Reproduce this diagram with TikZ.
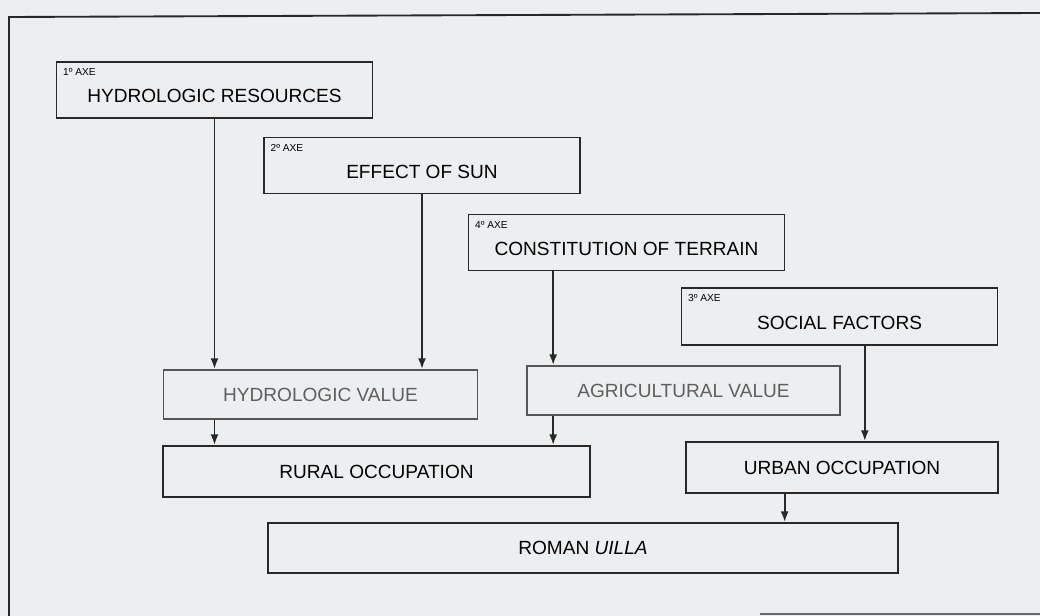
\documentclass[tikz,border=0pt]{standalone}
\usepackage{fontspec}
\setmainfont{Liberation Sans}
\usetikzlibrary{arrows.meta}

\definecolor{scanbg}{RGB}{236,238,240}
\definecolor{inkline}{RGB}{40,40,40}
\definecolor{fadedtext}{RGB}{95,95,95}
\definecolor{fadedline}{RGB}{85,85,85}

\tikzset{every picture/.style={line width=1.4pt}}
\tikzset{
  axebox/.style={draw=inkline, rectangle, minimum width=237pt, minimum height=42pt, inner sep=0pt, text height=19.2pt, text depth=0pt, font=\fontsize{14.3}{16}\selectfont},
  plainbox/.style={draw=inkline, rectangle, minimum height=38.3pt, inner sep=0pt, font=\fontsize{14.3}{16}\selectfont},
  valuebox/.style={plainbox, draw=fadedline, text=fadedtext, minimum width=235.5pt, minimum height=36.8pt},
  axetag/.style={anchor=north west, inner xsep=5pt, inner ysep=5pt, font=\fontsize{7.6}{8}\selectfont},
  flow/.style={draw=inkline, line width=1.4pt, -{Latex[length=8pt,width=6pt]}},
}

\begin{document}
\begin{tikzpicture}[x=0.75pt,y=0.75pt,yscale=-1,xscale=1]
\fill[scanbg] (0,0) rectangle (1040,616);
\useasboundingbox (0,0) rectangle (1040,616);

%Frame
\draw[inkline] (9,616) -- (9,17) -- (1040,13);
\draw[inkline!70] (760,614) -- (1040,614);

% Axes
\node[axebox] (res) at (214.5,90) {HYDROLOGIC RESOURCES};
\node[axetag] (resTag) at (res.north west) {1º AXE};
\node[axebox] (sun) at (422,165.5) {EFFECT OF SUN};
\node[axetag] (sunTag) at (sun.north west) {2º AXE};
\node[axebox] (ter) at (626.5,242.5) {CONSTITUTION OF TERRAIN};
\node[axetag] (terTag) at (ter.north west) {4º AXE};
\node[axebox, minimum height=42.8pt] (soc) at (839.5,316.5) {SOCIAL FACTORS};
\node[axetag] (socTag) at (soc.north west) {3º AXE};

% Values
\node[valuebox] (hval) at (320.5,394.5) {HYDROLOGIC VALUE};
\node[valuebox, minimum width=234.8pt] (aval) at (683.5,390.5) {AGRICULTURAL VALUE};

% Occupation
\node[plainbox, minimum width=320.3pt] (rural) at (376.5,471.5) {RURAL OCCUPATION};
\node[plainbox, minimum width=234pt] (urban) at (842,467.5) {URBAN OCCUPATION};
\node[plainbox, minimum width=472.5pt, minimum height=37.5pt] (villa) at (583,548) {ROMAN \textit{UILLA}};

% Arrows
\draw[flow] (res.south) -- (res.south |- hval.north);
\draw[flow] (sun.south) -- (sun.south |- hval.north);
\draw[flow] ([xshift=-55pt]ter.south) -- ([xshift=-55pt]ter.south |- aval.north);
\draw[flow] ([xshift=19pt]soc.south) -- ([xshift=19pt]soc.south |- urban.north);
\draw[flow] (res.south |- hval.south) -- (res.south |- rural.north);
\draw[flow] ([xshift=-55pt]ter.south |- aval.south) -- ([xshift=-55pt]ter.south |- rural.north);
\draw[flow] ([xshift=-43pt]urban.south) -- ([xshift=-43pt]urban.south |- villa.north);

\end{tikzpicture}
\end{document}
